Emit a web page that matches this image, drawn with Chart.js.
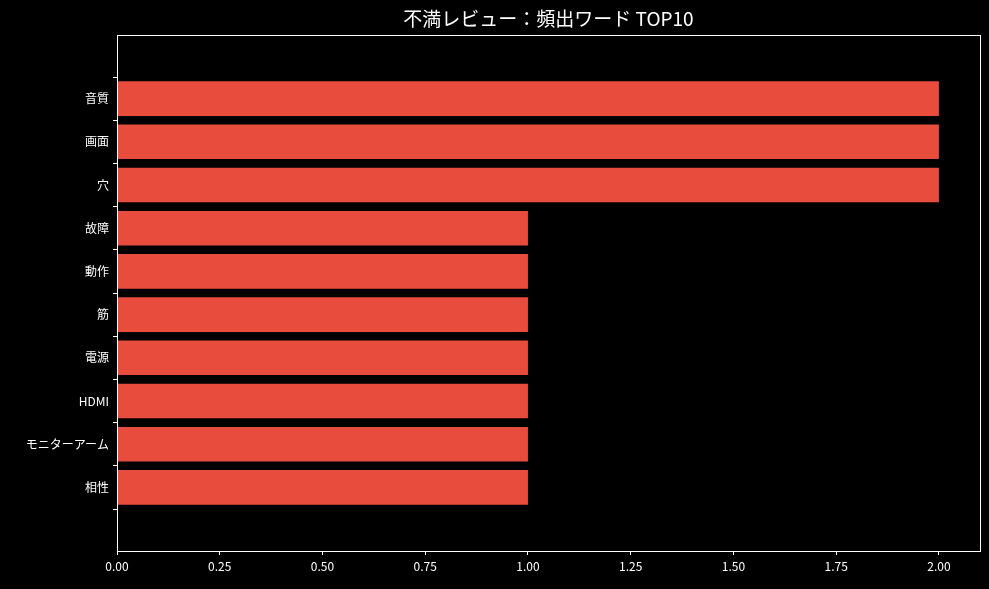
<!DOCTYPE html>
<html><head><meta charset="utf-8">
<script src="https://cdn.jsdelivr.net/npm/chart.js@4"></script>
<style>html,body{margin:0;background:#000}</style></head>
<body><canvas id="c" width="989" height="589"></canvas>
<script>
const categories = ["音質","画面","穴","故障","動作","筋","電源","HDMI","モニターアーム","相性"];
const counts = [2,2,2,1,1,1,1,1,1,1];
const xTicks = [0,0.25,0.5,0.75,1,1.25,1.5,1.75,2];
const TITLE = '不満レビュー：頻出ワード TOP10';
const FONT = "'Noto Sans CJK JP','DejaVu Sans',sans-serif";
Chart.defaults.font.family = FONT;
Chart.defaults.color = '#fff';
const frame = {id:'frame',afterDraw(c){const a=c.chartArea,x=c.ctx;x.save();x.strokeStyle='#fff';x.lineWidth=1;x.strokeRect(a.left+0.5,a.top+0.5,a.right-a.left,a.bottom-a.top);
 x.fillStyle='#fff';x.font="19px "+FONT;x.textAlign='center';x.textBaseline='middle';x.fillText(TITLE,(a.left+a.right)/2,19);x.restore();}};
new Chart(document.getElementById('c'),{
 type:'bar',
 data:{datasets:[{data:counts.map((v,i)=>({x:v,y:i})),backgroundColor:'#e74c3c',barPercentage:0.8,categoryPercentage:1}]},
 options:{responsive:false,animation:false,indexAxis:'y',
  layout:{padding:{left:0,right:9,top:35,bottom:0}},
  plugins:{legend:{display:false},tooltip:{enabled:false},title:{display:false}},
  scales:{
   x:{type:'linear',min:0,max:2.1,afterBuildTicks(s){s.ticks=xTicks.map(v=>({value:v}));},
    ticks:{color:'#fff',font:{size:12},callback:v=>Number(v).toFixed(2),maxRotation:0,padding:4},
    grid:{drawOnChartArea:false,drawTicks:true,tickLength:4,color:'#fff'},border:{color:'#fff'},
    afterFit(s){s.height=38;}},
   y:{type:'linear',reverse:true,min:-0.875,max:9.875,
    afterBuildTicks(s){s.ticks=categories.map((c,i)=>({value:i}));},
    ticks:{color:'#fff',font:{size:12},padding:4,callback:v=>categories[v]},
    grid:{drawOnChartArea:false,drawTicks:true,tickLength:4,color:'#fff'},border:{color:'#fff'},
    afterFit(s){s.width=117;}}
  }},
 plugins:[frame]
});
</script></body></html>
